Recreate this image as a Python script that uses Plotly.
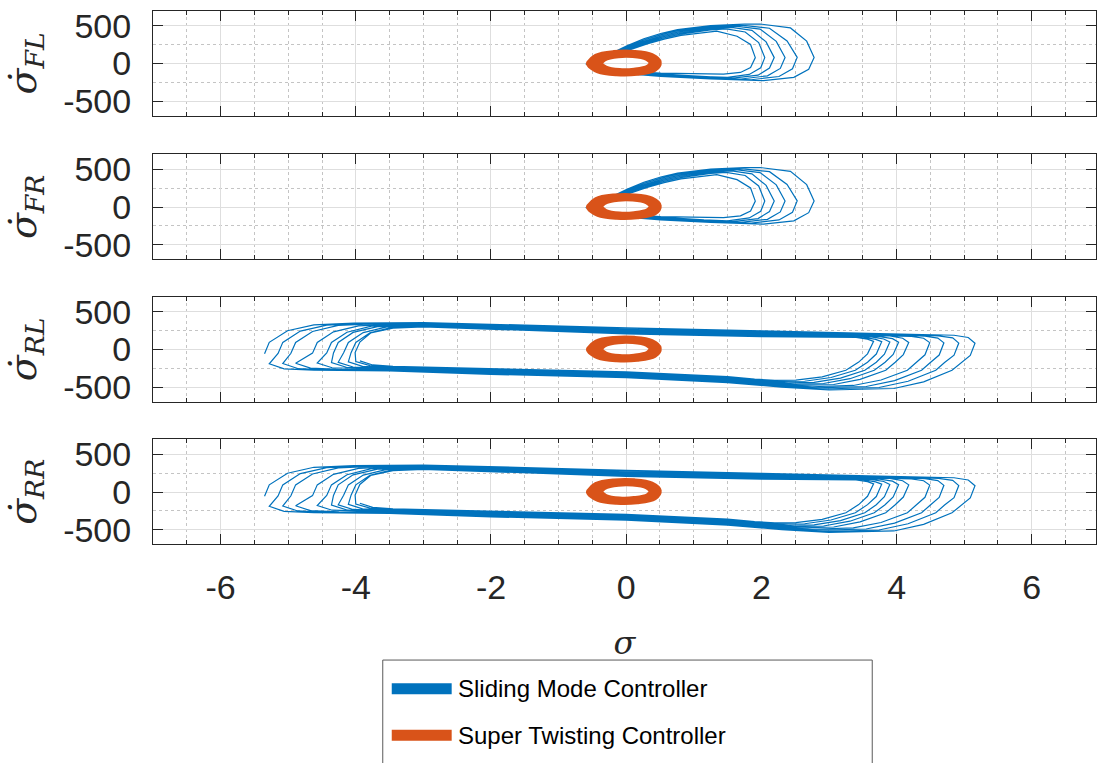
import plotly.graph_objects as go

# ---------------- axis ticks ----------------
X_TICKS = [-6, -4, -2, 0, 2, 4, 6]
X_TICK_LABELS = ["-6", "-4", "-2", "0", "2", "4", "6"]
Y_TICKS = [-500, 0, 500]
Y_TICK_LABELS = ["-500", "0", "500"]

PANEL_NAMES = ["FL", "FR", "RL", "RR"]
SERIES_NAMES = ["Sliding Mode Controller", "Super Twisting Controller"]

# ---------------- Sliding mode controller, front wheels (one list per cycle) ----------------
FRONT_SMC_X = [
    [-0.60, -0.45, -0.15, 0.01, 0.26, 0.51, 0.76, 1.25, 1.75, 1.98, 2.43, 2.67, 2.78, 2.70, 2.48, 2.03, 1.25, 0.51, 0.00, -0.40],
    [-0.59, -0.44, -0.14, 0.02, 0.27, 0.52, 0.77, 1.25, 1.70, 2.12, 2.38, 2.53, 2.46, 2.26, 1.85, 1.25, 0.51, 0.00, -0.40],
    [-0.58, -0.43, -0.13, 0.03, 0.28, 0.53, 0.78, 1.25, 1.62, 1.98, 2.22, 2.35, 2.28, 2.09, 1.70, 1.25, 0.51, 0.00, -0.40],
    [-0.57, -0.42, -0.12, 0.04, 0.29, 0.54, 0.79, 1.25, 1.56, 1.86, 2.07, 2.19, 2.12, 1.95, 1.58, 1.25, 0.51, 0.00, -0.40],
    [-0.56, -0.41, -0.11, 0.05, 0.30, 0.55, 0.80, 1.25, 1.48, 1.76, 1.96, 2.05, 1.99, 1.82, 1.50, 1.15, 0.51, 0.00, -0.40],
    [-0.55, -0.40, -0.10, 0.06, 0.31, 0.56, 0.81, 1.34, 1.64, 1.84, 1.91, 1.84, 1.69, 1.44, 1.00, 0.51, 0.00, -0.40],
]
FRONT_SMC_Y = [
    [-10, 55, 165, 235, 330, 400, 452, 505, 524, 526, 474, 298, 79, -75, -184, -228, -205, -170, -135, -80],
    [-8, 48, 155, 225, 316, 385, 437, 492, 512, 470, 300, 82, -70, -172, -215, -195, -160, -128, -75],
    [-6, 42, 145, 215, 302, 370, 422, 478, 498, 458, 295, 80, -65, -163, -205, -185, -150, -120, -70],
    [-5, 36, 135, 205, 289, 355, 406, 463, 482, 442, 288, 79, -60, -154, -194, -178, -142, -114, -65],
    [-4, 32, 125, 195, 275, 340, 391, 448, 462, 420, 280, 79, -56, -145, -183, -172, -135, -108, -60],
    [-3, 28, 115, 185, 262, 325, 375, 430, 364, 254, 79, -53, -118, -140, -135, -128, -102, -55],
]

# ---------------- Sliding mode controller, rear wheels (one list per cycle) ----------------
REAR_SMC_X = [
    [-5.35, -5.28, -5.01, -4.62, -4.03, -3.0, -1.5, 0.0, 2.0, 4.0, 4.85, 5.06, 5.16, 5.09, 4.95, 4.82, 4.40, 3.96, 3.0, 2.3, 1.5, 0.0, -2.0, -3.5, -4.62, -5.06, -5.28],
    [-5.15, -5.08, -4.82, -4.43, -3.90, -3.0, -1.5, 0.0, 2.0, 4.0, 4.62, 4.83, 4.92, 4.85, 4.71, 4.58, 4.17, 3.74, 2.9, 2.25, 1.5, 0.0, -2.0, -3.5, -4.43, -4.86, -5.08],
    [-4.96, -4.89, -4.64, -4.26, -3.75, -3.0, -1.5, 0.0, 2.0, 4.0, 4.42, 4.61, 4.70, 4.63, 4.50, 4.37, 3.97, 3.55, 2.8, 2.2, 1.5, 0.0, -2.0, -3.5, -4.25, -4.67, -4.89],
    [-4.64, -4.57, -4.33, -3.96, -3.5, -3.0, -1.5, 0.0, 2.0, 4.0, 4.22, 4.40, 4.49, 4.42, 4.29, 4.16, 3.77, 3.36, 2.75, 2.15, 1.5, 0.0, -2.0, -3.5, -3.95, -4.35, -4.57],
    [-4.43, -4.36, -4.13, -3.77, -3.3, -3.0, -1.5, 0.0, 2.0, 3.9, 4.09, 4.18, 4.10, 3.98, 3.84, 3.46, 3.07, 2.6, 2.1, 1.5, 0.0, -2.0, -3.5, -3.75, -4.14, -4.36],
    [-4.33, -4.26, -4.04, -3.68, -3.0, -1.5, 0.0, 2.0, 3.75, 3.94, 4.03, 3.95, 3.83, 3.67, 3.31, 2.92, 2.5, 2.05, 1.5, 0.0, -2.0, -3.65, -4.04, -4.26],
    [-4.18, -4.11, -3.89, -3.54, -3.0, -1.5, 0.0, 2.0, 3.62, 3.81, 3.90, 3.82, 3.70, 3.53, 3.17, 2.78, 2.4, 2.0, 1.5, 0.0, -2.0, -3.55, -3.90, -4.11],
    [-4.07, -4.00, -3.79, -3.45, -3.0, -1.5, 0.0, 2.0, 3.50, 3.69, 3.78, 3.70, 3.57, 3.39, 3.03, 2.64, 2.3, 1.95, 1.5, 0.0, -2.0, -3.45, -3.79, -4.00],
    [-4.01, -3.94, -3.78, -3.45, -3.0, -1.5, 0.0, 2.0, 3.40, 3.57, 3.66, 3.57, 3.44, 3.25, 2.90, 2.51, 2.2, 1.9, 1.5, 0.0, -2.0, -3.45, -3.75, -3.94],
]
REAR_SMC_Y = [
    [-57, 96, 250, 329, 352, 358, 325, 288, 250, 212, 190, 160, 83, -79, -175, -276, -430, -518, -538, -500, -440, -375, -330, -285, -275, -258, -190],
    [-52, 95, 245, 325, 347, 351, 316, 278, 240, 204, 182, 155, 86, -76, -173, -276, -422, -505, -525, -490, -430, -365, -322, -278, -270, -252, -186],
    [-50, 95, 240, 320, 342, 344, 307, 268, 230, 196, 178, 152, 89, -73, -172, -276, -414, -492, -510, -478, -420, -356, -313, -271, -265, -248, -183],
    [-48, 95, 235, 315, 335, 337, 298, 258, 220, 188, 175, 150, 92, -70, -171, -276, -405, -478, -495, -466, -410, -346, -304, -264, -258, -242, -179],
    [-46, 95, 230, 310, 328, 330, 289, 248, 210, 180, 150, 95, -67, -170, -276, -396, -465, -478, -452, -400, -336, -295, -257, -252, -236, -175],
    [-45, 95, 228, 305, 323, 280, 238, 200, 172, 145, 98, -65, -169, -276, -388, -452, -460, -438, -390, -326, -286, -248, -232, -170],
    [-44, 95, 225, 302, 316, 271, 228, 190, 168, 140, 101, -62, -169, -276, -380, -436, -442, -422, -380, -316, -277, -240, -225, -165],
    [-42, 95, 222, 298, 309, 262, 218, 180, 165, 135, 105, -60, -168, -276, -372, -422, -425, -405, -370, -306, -268, -232, -215, -160],
    [-40, 100, 220, 285, 302, 253, 208, 170, 160, 138, 109, -57, -167, -276, -364, -408, -410, -392, -360, -296, -259, -224, -205, -150],
]

# ---------------- Super twisting controller (same band on all wheels, one list per cycle) ----------------
STC_X = [
    [-0.54, -0.44, -0.18, 0.12, 0.37, 0.47, 0.41, 0.16, -0.14, -0.41, -0.54],
    [-0.48, -0.38, -0.15, 0.11, 0.34, 0.43, 0.37, 0.14, -0.12, -0.36, -0.48],
    [-0.42, -0.33, -0.12, 0.10, 0.31, 0.39, 0.33, 0.12, -0.10, -0.31, -0.42],
]
STC_Y = [
    [0, 84, 130, 132, 92, 15, -66, -114, -120, -84, 0],
    [2, 80, 125, 127, 88, 14, -63, -109, -115, -79, 2],
    [4, 76, 120, 122, 84, 13, -60, -104, -110, -74, 4],
]

BLUE = "#0072BD"
ORANGE = "#D95319"
AXIS_COLOR = "#262626"


def flatten(loops):
    out = []
    for loop in loops:
        out.extend(loop)
    return out


W, H = 1097, 763
L_MARGIN = 153
# panel pixel boxes (top, bottom)
PANEL_PX = [(7, 113), (152, 258), (296, 402), (440, 546)]

fig = go.Figure()

panel_data = [
    (FRONT_SMC_X, FRONT_SMC_Y),
    (FRONT_SMC_X, FRONT_SMC_Y),
    (REAR_SMC_X, REAR_SMC_Y),
    (REAR_SMC_X, REAR_SMC_Y),
]

for i, (sx, sy) in enumerate(panel_data):
    suffix = "" if i == 0 else str(i + 1)
    fig.add_trace(go.Scatter(
        x=flatten(sx), y=flatten(sy), mode="lines",
        line=dict(color=BLUE, width=1.2),
        name=SERIES_NAMES[0], showlegend=False,
        xaxis="x" + suffix, yaxis="y" + suffix,
    ))
    fig.add_trace(go.Scatter(
        x=flatten(STC_X), y=flatten(STC_Y), mode="lines",
        line=dict(color=ORANGE, width=7.5, shape="spline", smoothing=1.0),
        name=SERIES_NAMES[1], showlegend=False,
        xaxis="x" + suffix, yaxis="y" + suffix,
    ))

tick_font = dict(family="Liberation Sans, Arial, sans-serif", size=34, color=AXIS_COLOR)
title_font = dict(family="DejaVu Serif, Liberation Serif, serif", size=38, color=AXIS_COLOR)

layout = dict(
    width=W, height=H,
    margin=dict(l=L_MARGIN, r=0, t=0, b=0),
    paper_bgcolor="white", plot_bgcolor="white",
    showlegend=False,
)

for i, name in enumerate(PANEL_NAMES):
    suffix = "" if i == 0 else str(i + 1)
    top, bot = PANEL_PX[i]
    dom = [1 - bot / H, 1 - top / H]
    xa = dict(
        domain=[0, 1], anchor="y" + suffix,
        range=[-7, 6.95],
        tickmode="array", tickvals=X_TICKS, ticktext=X_TICK_LABELS,
        showticklabels=(i == 3),
        tickfont=tick_font,
        ticks="inside", ticklen=10, tickwidth=1, tickcolor=AXIS_COLOR,
        showline=True, linecolor=AXIS_COLOR, linewidth=1, mirror="ticks",
        showgrid=True, gridcolor="#dedede", gridwidth=1,
        zeroline=False,
        minor=dict(dtick=0.5, tick0=0, showgrid=True, gridcolor="#c4c4c4",
                   griddash="dot", ticks="inside", ticklen=4, tickcolor=AXIS_COLOR),
    )
    if i != 0:
        xa["matches"] = "x"
    if i == 3:
        xa["title"] = dict(text="<i>σ</i>", font=dict(family="DejaVu Serif, serif", size=32, color=AXIS_COLOR), standoff=26)
        xa["ticklabelstandoff"] = 13
    ya = dict(
        domain=dom, anchor="x" + suffix,
        range=[-695, 700],
        tickmode="array", tickvals=Y_TICKS, ticktext=Y_TICK_LABELS,
        tickfont=tick_font,
        ticks="inside", ticklen=10, tickwidth=1, tickcolor=AXIS_COLOR,
        showline=True, linecolor=AXIS_COLOR, linewidth=1, mirror="ticks",
        showgrid=True, gridcolor="#dedede", gridwidth=1,
        zeroline=False,
        ticklabelstandoff=14,
        minor=dict(dtick=250, tick0=0, showgrid=True, gridcolor="#c4c4c4",
                   griddash="dot", ticks=""),
        title=dict(text="<i>σ̇</i><sub><i>%s</i></sub>" % name, font=title_font, standoff=14),
    )
    layout["xaxis" + suffix] = xa
    layout["yaxis" + suffix] = ya

fig.update_layout(**layout)

# ---------------- legend box (drawn in paper coordinates) ----------------
def px_to_paper_x(px):
    return (px - L_MARGIN) / (W - L_MARGIN)


def px_to_paper_y(py):
    return (H - py) / H


fig.add_shape(type="rect", xref="paper", yref="paper",
              x0=px_to_paper_x(383), x1=px_to_paper_x(873),
              y0=px_to_paper_y(663), y1=px_to_paper_y(800),
              line=dict(color="#5a5a5a", width=1), fillcolor="white", layer="above")
legend_rows = [(692, BLUE, SERIES_NAMES[0]), (739, ORANGE, SERIES_NAMES[1])]
for py, col, label in legend_rows:
    fig.add_shape(type="line", xref="paper", yref="paper",
                  x0=px_to_paper_x(392), x1=px_to_paper_x(452),
                  y0=px_to_paper_y(py), y1=px_to_paper_y(py),
                  line=dict(color=col, width=11), layer="above")
    fig.add_annotation(xref="paper", yref="paper",
                       x=px_to_paper_x(456), y=px_to_paper_y(py),
                       xanchor="left", yanchor="middle", showarrow=False,
                       text=label,
                       font=dict(family="Liberation Sans, Arial, sans-serif", size=24, color="black"))

fig.write_html("out.html")
